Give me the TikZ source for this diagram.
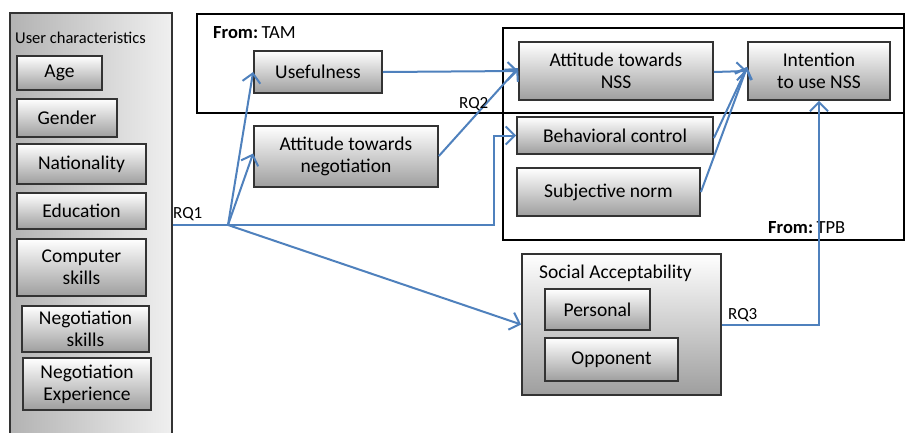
\documentclass[tikz,border=0pt]{standalone}
\usepackage{fontspec}
\setmainfont{Carlito}
\usetikzlibrary{arrows.meta}
\definecolor{lblue}{RGB}{79,129,189}
\begin{document}
\begin{tikzpicture}[x=1pt,y=-1pt,
 box/.style={draw=black!80, line width=1.8pt, top color=white, bottom color=black!38, inner sep=0pt, align=center, font=\fontsize{19.5}{22}\selectfont},
 frame/.style={draw=black, line width=1.8pt, inner sep=0pt},
 conn/.style={draw=lblue, line width=2pt, -{Straight Barb[length=9pt,width=18pt,line width=2pt]}},
 plain/.style={draw=lblue, line width=2pt},
 lbl/.style={font=\fontsize{17}{20}\selectfont, inner sep=0pt}
]
\useasboundingbox (0,0) rectangle (906,432);
\fill[white] (0,0) rectangle (906,432);
\begin{scope}
\clip (0,0) rectangle (906,432);
\node[draw=black!80, line width=1.8pt, left color=black!30, right color=black!6, minimum width=162pt, minimum height=440pt, inner sep=0pt] (uc) at (91,233) {};
\end{scope}
\node[font=\fontsize{16.5}{19}\selectfont, inner sep=0pt, anchor=west] (uctitle) at (15,38) {User characteristics};
\node[box, minimum width=85pt, minimum height=34pt] (age) at (59.5,73) {Age};
\node[box, minimum width=100pt, minimum height=38pt] (gender) at (67,118) {Gender};
\node[box, minimum width=129pt, minimum height=40pt] (nat) at (81.5,164) {Nationality};
\node[box, minimum width=129pt, minimum height=36pt] (edu) at (81.5,211) {Education};
\node[box, minimum width=129pt, minimum height=57pt] (comp) at (81.5,267.5) {Computer\\skills};
\node[box, minimum width=127pt, minimum height=46pt] (negs) at (85.5,329) {Negotiation\\skills};
\node[box, minimum width=128pt, minimum height=52pt] (nege) at (87,384) {Negotiation\\Experience};

% frames
\node[frame, minimum width=707pt, minimum height=99pt] (tam) at (550.5,63.5) {};
\node[frame, minimum width=401pt, minimum height=212pt] (tpb) at (703.5,134) {};
\node[font=\fontsize{18.5}{21}\selectfont, inner sep=0pt, anchor=west] (tamlbl) at (213,33) {\textbf{From:}\kern3.5pt TAM};
\node[font=\fontsize{18.5}{21}\selectfont, inner sep=0pt, anchor=west] (tpblbl) at (768,228) {\textbf{From:}\kern3.5pt TPB};

% boxes
\node[box, minimum width=128pt, minimum height=42pt] (use) at (318,72) {Usefulness};
\node[box, minimum width=184pt, minimum height=61pt] (attneg) at (346,156.5) {Attitude towards\\negotiation};
\node[box, minimum width=194pt, minimum height=58pt] (attnss) at (616,71) {Attitude towards\\NSS};
\node[box, minimum width=142pt, minimum height=58pt] (int) at (819,71) {Intention\\to use NSS};
\node[box, minimum width=196pt, minimum height=37pt] (bc) at (615,135.5) {Behavioral control};
\node[box, minimum width=183pt, minimum height=48pt] (sn) at (608.5,192) {Subjective norm};
\node[box, minimum width=199pt, minimum height=141pt] (sa) at (621.5,324.5) {};
\node[font=\fontsize{19.5}{22}\selectfont, inner sep=0pt, anchor=west] (satitle) at (539,273) {Social Acceptability};
\node[box, minimum width=105pt, minimum height=41pt] (pers) at (597.5,309.5) {Personal};
\node[box, minimum width=133pt, minimum height=43pt] (opp) at (611.5,359.5) {Opponent};

% connectors
\coordinate (hub) at (228,225);
\coordinate (bend) at (494,225);
\draw[plain] (uc.east |- hub) -- (hub);
\draw[conn] (hub) -- (use.west);
\draw[conn] (hub) -- ([yshift=3pt]attneg.west);
\draw[conn] (hub) -- (bend) |- (bc.west);
\draw[conn] (hub) -- (sa.west);
\draw[conn] (use.east) -- (attnss.west);
\draw[conn] ([yshift=0.5pt]attneg.east) -- ([yshift=3pt]attnss.west);
\draw[conn] ([yshift=-1pt]attnss.east) -- (int.west);
\draw[conn] ([yshift=-2.5pt]bc.east) -- ([yshift=4pt]int.west);
\draw[conn] (sn.east) -- ([yshift=4pt]int.west);
\draw[conn] (sa.east) -| (int.south);

\node[lbl, anchor=west] (rq1) at (173,214) {RQ1};
\node[lbl, anchor=west] (rq2) at (459,104) {RQ2};
\node[lbl, anchor=west] (rq3) at (728,315) {RQ3};
\end{tikzpicture}
\end{document}
